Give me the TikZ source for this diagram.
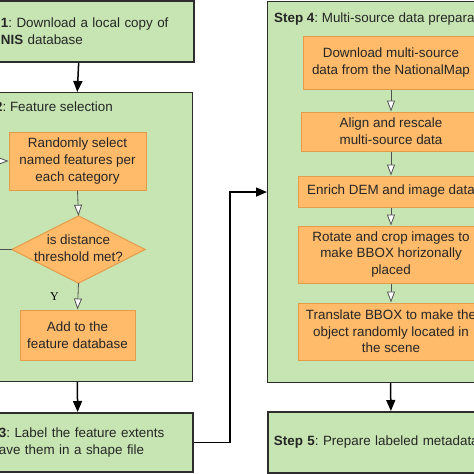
\documentclass[tikz,border=0pt]{standalone}
\usepackage{fontspec}
\setmainfont{Liberation Sans}
\newfontfamily\ylabelfont{Liberation Serif}
\usetikzlibrary{shapes.geometric,arrows.meta}
\definecolor{stepgreen}{RGB}{198,229,178}
\definecolor{boxorange}{RGB}{255,186,106}
\definecolor{boxedge}{RGB}{228,156,72}
\definecolor{darkedge}{RGB}{45,45,45}
\definecolor{arrowgrey}{RGB}{80,80,80}
\newcommand\diagfont{\fontsize{13.4}{16.6}\selectfont\frenchspacing}
\begin{document}
\begin{tikzpicture}[x=1pt,y=-1pt,
  stepbox/.style={draw=darkedge, line width=1.8pt, fill=stepgreen, rectangle, inner sep=0pt, font=\diagfont, text=black!85},
  groupbox/.style={draw=darkedge, line width=1.1pt, fill=stepgreen, rectangle, inner sep=0pt},
  titletext/.style={inner sep=0pt, anchor=west, font=\diagfont, text=black!85},
  taskbox/.style={draw=boxedge, line width=1pt, fill=boxorange, rectangle, align=center, inner sep=0pt, font=\diagfont, text=black!85},
  decisiontext/.style={rectangle, align=center, inner sep=0pt, font=\diagfont, text=black!85},
  decisionshape/.style={draw=boxedge, line width=1pt, line join=miter},
  steparrow/.style={draw=black, line width=1.5pt, -{Triangle[length=11pt,width=9pt]}},
  innerarrow/.style={draw=arrowgrey, line width=0.8pt, -{Triangle[length=11pt,width=8pt,fill=white]}}
]
\useasboundingbox (0,0) rectangle (474,474);
\clip (0,0) rectangle (474,474);
\fill[white] (0,0) rectangle (474,474);

% left column
\node[stepbox, anchor=north west, minimum width=230.5pt, minimum height=61pt,
      text width=222.5pt, align=left, inner xsep=4pt] (s1) at (-37.5,0)
  {\textbf{Step 1}: Download a local copy of\\the \textbf{GNIS} database};

\node[groupbox, anchor=north west, minimum width=230.5pt, minimum height=289pt] (s2) at (-38.5,92) {};
\node[titletext] (t2) at (-37.8,108) {\textbf{Step 2}: Feature selection};

\node[taskbox, minimum width=137pt, minimum height=58pt] (r1) at (77.5,161)
  {Randomly select\\named features per\\each category};
\node[decisiontext, minimum width=133pt, minimum height=67pt] (d1) at (78.5,249.5) {};
\fill[boxorange] (d1.north) -- (d1.east) -- (d1.south) -- (d1.west) -- cycle;
\draw[decisionshape] (d1.north) -- (d1.east) -- (d1.south) -- (d1.west) -- cycle;
\node[decisiontext] (d1t) at (78.5,248.5) {is distance\\threshold met?};
\node[taskbox, minimum width=115pt, minimum height=50pt] (r2) at (77.5,335)
  {Add to the\\feature database};
\node[inner sep=0pt, font=\ylabelfont\fontsize{12}{14}\selectfont] (ylab) at (54.5,297) {Y};

\draw[innerarrow] (r1.south) -- (d1.north);
\draw[innerarrow] (d1.south) -- (r2.north);
\coordinate (loopx) at (-15,0);
\draw[innerarrow] (d1.west) -- (d1.west -| loopx) |- (r1.west);

\node[stepbox, anchor=north west, minimum width=230.5pt, minimum height=59pt,
      text width=224.5pt, align=left, inner xsep=3pt] (s3) at (-38.5,412)
  {\textbf{Step 3}: Label the feature extents\\and save them in a shape file};

\draw[steparrow] (s1.south) -- (s2.north);
\draw[steparrow] (s2.south) -- (s3.north);

% right column
\node[groupbox, anchor=north west, minimum width=246pt, minimum height=381pt] (s4) at (267,1) {};
\node[titletext] (t4) at (274,19) {\textbf{Step 4}: Multi-source data preparation};

\node[taskbox, minimum width=176pt, minimum height=53pt] (a1) at (391,62.5)
  {Download multi-source\\data from the NationalMap};
\node[taskbox, minimum width=180pt, minimum height=39pt] (a2) at (391,131.5)
  {Align and rescale\\multi-source data};
\node[taskbox, minimum width=186pt, minimum height=31pt] (a3) at (391,191.5)
  {Enrich DEM and image data};
\node[taskbox, minimum width=186pt, minimum height=57pt] (a4) at (391,254.5)
  {Rotate and crop images to\\make BBOX horizonally\\placed};
\node[taskbox, minimum width=186pt, minimum height=57pt] (a5) at (391,331.5)
  {Translate BBOX to make the\\object randomly located in\\the scene};

\draw[innerarrow] (a1.south) -- (a2.north);
\draw[innerarrow] (a2.south) -- (a3.north);
\draw[innerarrow] (a3.south) -- (a4.north);
\draw[innerarrow] (a4.south) -- (a5.north);

\node[stepbox, anchor=north west, minimum width=246pt, minimum height=61pt,
      text width=234pt, align=left, inner xsep=6pt] (s5) at (267,411)
  {\textbf{Step 5}: Prepare labeled metadata};

\draw[steparrow] (s4.south) -- (s5.north);
\coordinate (jx) at (230,0);
\draw[steparrow] (s3.east) -- (s3.east -| jx) |- (s4.west);
\end{tikzpicture}
\end{document}
